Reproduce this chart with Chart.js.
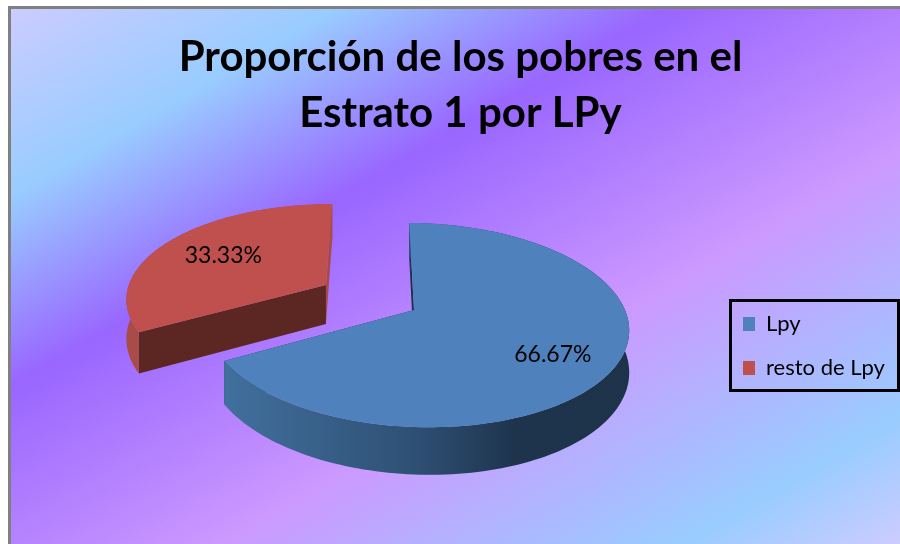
<!DOCTYPE html>
<html>
<head>
<meta charset="utf-8">
<style>
  html, body { margin: 0; padding: 0; background: #fff; overflow: hidden; }
  #wrap { width: 900px; height: 544px; }
</style>
<script src="https://cdn.jsdelivr.net/npm/chart.js@4"></script>
</head>
<body>
<div id="wrap"><canvas id="chart" width="900" height="544"></canvas></div>
<script>
const categories = ["Lpy", "resto de Lpy"];
const values = [66.67, 33.33];
const titleLines = ["Proporción de los pobres en el", "Estrato 1 por LPy"];

const topColors = ["#4f81bd", "#c0504d"];
const cutColors = ["#1d3349", "#a84a47"];
const innerColors = ["#1d3349", "#5c2622"];

// perspective of the 3d pie, fitted by eye
const view = { x: 414, y: 310, a: 209, b: 99.8, k: 0.147, m: 0.018, shear: 5, depth: 40.5 };
const pull = [0, 0.5];
const labelR = [0.71, 0.64];
const labelDy = [5, 0];

function project(u, v, down) {
  const w = 1 - view.k * v - view.m * u;
  return {
    x: view.x + view.a * u / w,
    y: view.y + (view.b * v + view.shear * u) / w + (down ? view.depth / w : 0)
  };
}

function pathOf(ctx, pts) {
  ctx.beginPath();
  pts.forEach((p, i) => i ? ctx.lineTo(p.x, p.y) : ctx.moveTo(p.x, p.y));
  ctx.closePath();
}

function rimPoints(arc, ox, oy, down, reverse) {
  const pts = [];
  const n = 160;
  for (let i = 0; i <= n; i++) {
    const t = arc.startAngle + (arc.endAngle - arc.startAngle) * (reverse ? n - i : i) / n;
    pts.push(project(ox + Math.cos(t), oy + Math.sin(t), down));
  }
  return pts;
}

function wallFill(ctx, i) {
  if (i === 1) return "#a94b48";
  const g = ctx.createLinearGradient(225, 0, 628, 0);
  g.addColorStop(0, "#41709e");
  g.addColorStop(0.48, "#2e4f73");
  g.addColorStop(0.72, "#1e344d");
  g.addColorStop(1, "#1d3349");
  return g;
}

function drawSlice(ctx, arc, i) {
  const mid = (arc.startAngle + arc.endAngle) / 2;
  const ox = Math.cos(mid) * pull[i];
  const oy = Math.sin(mid) * pull[i];
  const edge = t => ({ u: ox + Math.cos(t), v: oy + Math.sin(t) });
  const s = edge(arc.startAngle);
  const e = edge(arc.endAngle);

  // the end cut, then the start cut
  ctx.fillStyle = cutColors[i];
  pathOf(ctx, [project(ox, oy), project(e.u, e.v), project(e.u, e.v, true), project(ox, oy, true)]);
  ctx.fill();
  ctx.fillStyle = i === 0 ? cutColors[0] : innerColors[i];
  pathOf(ctx, [project(ox, oy), project(s.u, s.v), project(s.u, s.v, true), project(ox, oy, true)]);
  ctx.fill();

  // outer wall
  ctx.fillStyle = wallFill(ctx, i);
  pathOf(ctx, rimPoints(arc, ox, oy, false, false).concat(rimPoints(arc, ox, oy, true, true)));
  ctx.fill();

  // top face
  ctx.fillStyle = topColors[i];
  pathOf(ctx, [project(ox, oy)].concat(rimPoints(arc, ox, oy, false, false)));
  ctx.fill();
}

const pie3d = {
  id: "pie3d",
  beforeDraw(chart) {
    const ctx = chart.ctx;
    // light lavender to blue to violet bands
    const g = ctx.createLinearGradient(0, 0, 460, 798);
    g.addColorStop(0.013, "#ccccff");
    g.addColorStop(0.19, "#99ccff");
    g.addColorStop(0.37, "#9966ff");
    g.addColorStop(0.63, "#cc99ff");
    g.addColorStop(0.88, "#99ccff");
    g.addColorStop(1, "#ccccff");
    ctx.save();
    ctx.fillStyle = "#808080";
    ctx.fillRect(8, 6, 892, 538);
    ctx.fillStyle = g;
    ctx.fillRect(11, 9, 889, 535);
    ctx.restore();
  },
  afterLayout(chart) {
    const l = chart.legend;
    const h = l.bottom - l.top;
    l.left = 721;
    l.right = 900;
    l.top = 291;
    l.bottom = 291 + h;
  },
  beforeDatasetsDraw(chart) {
    const ctx = chart.ctx;
    const arcs = chart.getDatasetMeta(0).data;
    ctx.save();
    drawSlice(ctx, arcs[1], 1);
    drawSlice(ctx, arcs[0], 0);
    ctx.restore();
    return false;
  },
  afterDraw(chart) {
    const ctx = chart.ctx;
    const arcs = chart.getDatasetMeta(0).data;
    ctx.save();
    ctx.fillStyle = "#000";
    ctx.font = "23px Lato";
    ctx.textAlign = "center";
    ctx.textBaseline = "middle";
    arcs.forEach((arc, i) => {
      const mid = (arc.startAngle + arc.endAngle) / 2;
      const r = pull[i] + labelR[i];
      const p = project(Math.cos(mid) * r, Math.sin(mid) * r);
      ctx.fillText(values[i].toFixed(2) + "%", p.x, p.y + labelDy[i]);
    });
    // legend frame
    ctx.strokeStyle = "#000";
    ctx.lineWidth = 3;
    ctx.strokeRect(730.5, 300.5, 168, 90);
    ctx.restore();
  }
};

new Chart(document.getElementById("chart"), {
  type: "pie",
  data: {
    labels: categories,
    datasets: [{ data: values, backgroundColor: topColors, borderWidth: 0 }]
  },
  plugins: [pie3d],
  options: {
    responsive: false,
    animation: false,
    rotation: -1.5,
    layout: { padding: { left: 21 } },
    plugins: {
      tooltip: { enabled: false },
      title: {
        display: true,
        text: titleLines,
        color: "#000",
        font: { family: "Lato", size: 42, weight: "bold", lineHeight: 1.33 },
        padding: { top: 30, bottom: 0 }
      },
      legend: {
        position: "right",
        align: "start",
        labels: {
          boxWidth: 12,
          boxHeight: 14,
          padding: 22,
          color: "#000",
          font: { family: "Lato", size: 22 }
        }
      }
    }
  }
});
</script>
</body>
</html>
